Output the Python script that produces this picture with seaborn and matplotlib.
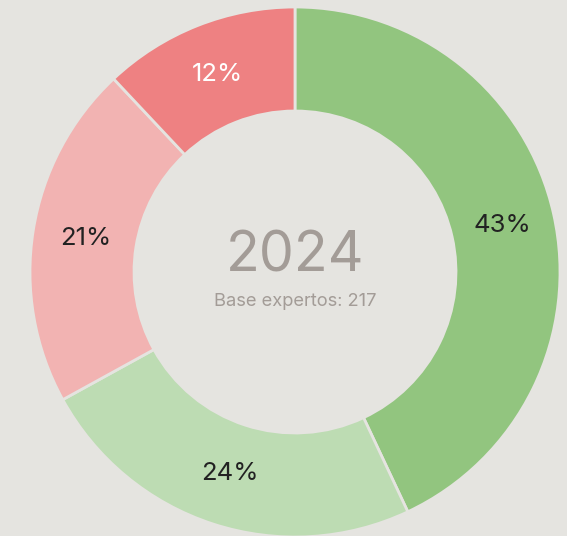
import matplotlib
matplotlib.use("Agg")
import matplotlib.pyplot as plt
import seaborn as sns

# data
shares = [43, 24, 21, 12]
slice_colors = ["#92c57f", "#bddcb3", "#f2b3b2", "#ee8182"]
label_colors = ["#222222", "#222222", "#222222", "#ffffff"]
year = "2024"
base_text = "Base expertos: 217"

bg = "#e5e4e0"

sns.set_theme(style="white")
plt.rcParams['font.family'] = ['Inter', 'DejaVu Sans']

fig = plt.figure(figsize=(5.67, 5.36), dpi=100, facecolor=bg)
ax = fig.add_axes([0, 0, 1, 1])
ax.set_facecolor(bg)

# axes in pixel units, centre of donut at (295, 272) from top-left
cx, cy = 295, 272
R = 265

wedges, texts, autotexts = ax.pie(
    shares,
    colors=slice_colors,
    radius=R,
    startangle=90,
    counterclock=False,
    autopct=lambda p: "%.0f%%" % p,
    pctdistance=0.8,
    wedgeprops=dict(width=104, edgecolor=bg, linewidth=2),
    textprops=dict(fontsize=18.5),
    frame=True,
)
for t, c in zip(autotexts, label_colors):
    t.set_color(c)

ax.set_xlim(-cx, 567 - cx)
ax.set_ylim(-(536 - cy), cy)
ax.set_aspect("equal")
ax.axis("off")

ax.text(0, 15, year, ha="center", va="center", fontsize=40, color="#a39c97")
ax.text(0, -30, base_text, ha="center", va="center", fontsize=13.2, color="#a39c97")

fig.savefig("out.png", dpi=100, facecolor=bg)
